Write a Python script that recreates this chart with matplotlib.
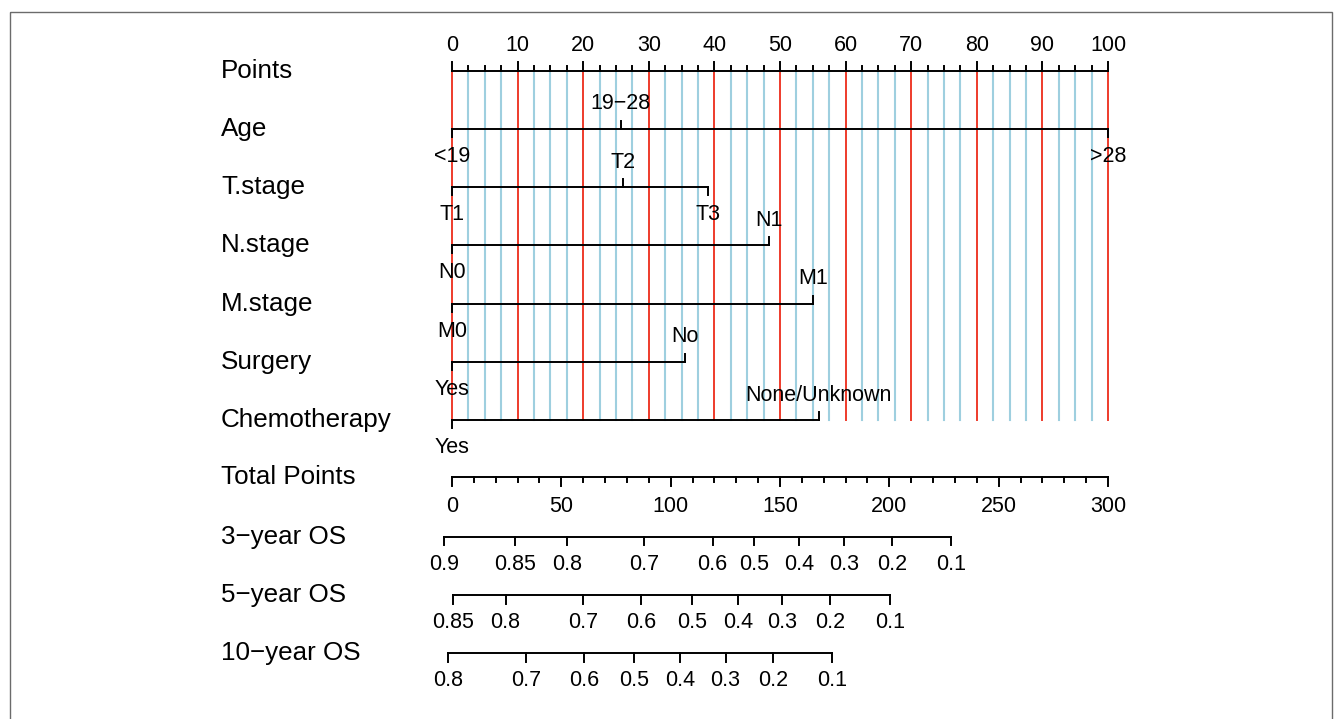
import matplotlib
matplotlib.use("Agg")
import matplotlib.pyplot as plt
from matplotlib.patches import Rectangle

# ---------------- data ----------------
points_ticks = list(range(0, 101, 10))
points_minor = [i * 2.5 for i in range(41)]

row_names = ["Points", "Age", "T.stage", "N.stage", "M.stage", "Surgery", "Chemotherapy"]

age_levels = ["<19", "19\u221228", ">28"]
age_points = [0, 25.7, 100]
t_levels = ["T1", "T2", "T3"]
t_points = [0, 26.1, 39.0]
n_levels = ["N0", "N1"]
n_points = [0, 48.3]
m_levels = ["M0", "M1"]
m_points = [0, 55.1]
surg_levels = ["Yes", "No"]
surg_points = [0, 35.5]
chemo_levels = ["Yes", "None/Unknown"]
chemo_points = [0, 55.9]

total_ticks = list(range(0, 301, 50))
total_minor = list(range(0, 301, 10))

os_names = ["3\u2212year OS", "5\u2212year OS", "10\u2212year OS"]
os3_labels = ["0.9", "0.85", "0.8", "0.7", "0.6", "0.5", "0.4", "0.3", "0.2", "0.1"]
os3_total = [-3.7, 28.8, 52.5, 87.8, 119.2, 138.0, 158.7, 179.3, 201.4, 228.2]
os5_labels = ["0.85", "0.8", "0.7", "0.6", "0.5", "0.4", "0.3", "0.2", "0.1"]
os5_total = [0.6, 24.5, 59.9, 86.6, 109.6, 130.7, 151.1, 173.0, 200.3]
os10_labels = ["0.8", "0.7", "0.6", "0.5", "0.4", "0.3", "0.2", "0.1"]
os10_total = [-1.7, 33.8, 60.5, 83.4, 104.4, 125.1, 146.7, 173.9]

# ---------------- layout ----------------
W, H = 1338, 719
X0, PX_PER_PT = 452.0, 6.56
plt.rcParams['font.family'] = ['Liberation Sans', 'DejaVu Sans']

fig = plt.figure(figsize=(W / 100, H / 100), dpi=100)
ax = fig.add_axes([0, 0, 1, 1])
ax.set_xlim(-X0 / PX_PER_PT, (W - X0) / PX_PER_PT)
ax.set_ylim(H, 0)
ax.axis("off")

LAB_FS = 18.7
TICK_FS = 15.5
LW = 1.4
row_y = [70.7 + 58.25 * i for i in range(7)]
tot_y = 477.3
os_y = [536.7, 595.0, 653.3]
LABEL_X = (221 - X0) / PX_PER_PT

# frame
ax.add_patch(Rectangle(((10 - X0) / PX_PER_PT, 11.5), (1322) / PX_PER_PT, 720,
                       fill=False, edgecolor="#6b6b6b", linewidth=1.0, zorder=0))

# vertical reference lines
for v in points_minor:
    if abs(v % 10) < 1e-9:
        continue
    ax.plot([v, v], [row_y[0], row_y[-1]], color="#9ecfdf", lw=1.5, zorder=1)
for v in points_ticks:
    ax.plot([v, v], [row_y[0], row_y[-1]], color="#ee3b2b", lw=1.4, zorder=1)

# row labels
for name, y in zip(row_names, row_y):
    ax.text(LABEL_X, y, name, fontsize=LAB_FS, ha="left", va="center")
ax.text(LABEL_X, tot_y, "Total Points", fontsize=LAB_FS, ha="left", va="center")
for name, y in zip(os_names, os_y):
    ax.text(LABEL_X, y, name, fontsize=LAB_FS, ha="left", va="center")

# Points axis (ticks upward, labels above)
y = row_y[0]
ax.plot([0, 100], [y, y], color="black", lw=LW, zorder=3)
for v in points_minor:
    L = 9 if abs(v % 10) < 1e-9 else 4.5
    ax.plot([v, v], [y, y - L], color="black", lw=LW, zorder=3)
for v in points_ticks:
    ax.text(v, y - 25.5, str(v), fontsize=TICK_FS, ha="center", va="center")

# categorical predictors
preds = [(age_levels, age_points), (t_levels, t_points), (n_levels, n_points),
         (m_levels, m_points), (surg_levels, surg_points), (chemo_levels, chemo_points)]
for (levels, pts), y in zip(preds, row_y[1:]):
    ax.plot([min(pts), max(pts)], [y, y], color="black", lw=LW, zorder=3)
    for i, (lab, p) in enumerate(zip(levels, pts)):
        if i % 2 == 0:   # below
            ax.plot([p, p], [y, y + 8], color="black", lw=LW, zorder=3)
            ax.text(p, y + 27.5, lab, fontsize=TICK_FS, ha="center", va="center", zorder=4)
        else:            # above
            ax.plot([p, p], [y, y - 8], color="black", lw=LW, zorder=3)
            ax.text(p, y - 25, lab, fontsize=TICK_FS, ha="center", va="center", zorder=4)

# Total points axis
to_pts = lambda t: t / 3.0
ax.plot([to_pts(0), to_pts(300)], [tot_y, tot_y], color="black", lw=LW)
for t in total_minor:
    L = 9 if t % 50 == 0 else 5
    ax.plot([to_pts(t)] * 2, [tot_y, tot_y + L], color="black", lw=LW)
for t in total_ticks:
    ax.text(to_pts(t), tot_y + 29, str(t), fontsize=TICK_FS, ha="center", va="center")

# survival axes
for (labs, tots), y in zip([(os3_labels, os3_total), (os5_labels, os5_total),
                            (os10_labels, os10_total)], os_y):
    xs = [to_pts(t) for t in tots]
    ax.plot([min(xs), max(xs)], [y, y], color="black", lw=LW)
    for lab, xv in zip(labs, xs):
        ax.plot([xv, xv], [y, y + 8.5], color="black", lw=LW)
        ax.text(xv, y + 27.5, lab, fontsize=TICK_FS, ha="center", va="center")

fig.savefig("out.png", dpi=100)
